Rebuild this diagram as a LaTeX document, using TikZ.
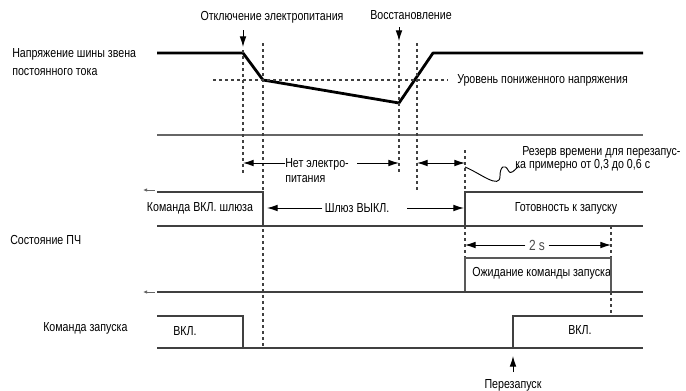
\documentclass[tikz,border=0pt]{standalone}
\usepackage{fontspec}
\setmainfont[FakeStretch=0.815]{Liberation Sans}
\usetikzlibrary{arrows.meta}
\begin{document}
\begin{tikzpicture}[x=0.75pt,y=-0.75pt,
  lbl/.style={inner sep=0pt, font=\fontsize{9.8}{12}\selectfont, text=black},
  sig/.style={line width=1.1pt, draw=black!75},
  wave/.style={line width=2.1pt, draw=black, line join=round},
  vdash/.style={line width=0.9pt, draw=black!75, dash pattern=on 2.5pt off 2pt},
  arr/.style={line width=0.7pt, -{Latex[length=8pt,width=5pt]}},
  dblarr/.style={line width=0.7pt, {Latex[length=8pt,width=5pt]}-{Latex[length=8pt,width=5pt]}},
  tick/.style={line width=0.6pt, draw=black!60, -{Latex[length=3pt,width=2.6pt]}},
]
\useasboundingbox[fill=white] (0,0) rectangle (686,390);

% ---- labels ----
\node[lbl] (toff) at (272,17) {Отключение электропитания};
\node[lbl] (trest) at (411,15) {Восстановление};
\node[lbl, anchor=west, align=left, font=\fontsize{9.8}{13.5}\selectfont] (tdc) at (12,62.5) {Напряжение шины звена\\постоянного тока};
\node[lbl, anchor=west] (tuv) at (457,80) {Уровень пониженного напряжения};
\node[lbl, anchor=west, align=left, font=\fontsize{9.8}{11.25}\selectfont] (tnp) at (285,170.5) {Нет электро-\\питания};
\node[lbl, anchor=west, align=left, font=\fontsize{9.8}{9.75}\selectfont] (trsv) at (515,159) {\hspace{5.25pt}Резерв времени для перезапус-\\ка примерно от 0,3 до 0,6 с};
\node[lbl] (tgon) at (200,208) {Команда ВКЛ. шлюза};
\node[lbl] (tgoff) at (357,208) {Шлюз ВЫКЛ.};
\node[lbl] (tready) at (566,208) {Готовность к запуску};
\node[lbl, anchor=west] (tfc) at (10,240) {Состояние ПЧ};
\node[lbl, inner sep=2.5pt, text=black!70, font=\fontsize{11}{12}\selectfont] (t2s) at (537,245) {2 s};
\node[lbl, anchor=west] (twait) at (472,273) {Ожидание команды запуска};
\node[lbl, anchor=west] (tstart) at (43,328) {Команда запуска};
\node[lbl] (ton1) at (185,331) {ВКЛ.};
\node[lbl] (ton2) at (580,330) {ВКЛ.};
\node[lbl] (trs) at (513,385) {Перезапуск};

% ---- coordinates ----
\coordinate (a1) at (243,30);  \coordinate (a1e) at (243,47);
\coordinate (a2) at (399,27);  \coordinate (a2e) at (399,41);
\coordinate (a3) at (513,372); \coordinate (a3e) at (513,356);

% ---- DC bus voltage ----
\draw[wave] (157,53) -- (243,53) -- (263,80) -- (399,103) -- (433,53) -- (643,53);
\draw[vdash] (213,80) -- (448,80);
\draw[line width=1.2pt, draw=black!60] (157,135) -- (643,135);

% ---- vertical dashed lines ----
\draw[vdash] (243,50) -- (243,173);
\draw[vdash] (263,43) -- (263,348);
\draw[vdash] (399,43) -- (399,173);
\draw[vdash] (417,43) -- (417,192);
\draw[vdash] (465,150) -- (465,192);
\draw[vdash] (465,226) -- (465,258);
\draw[vdash] (611,226) -- (611,313);

% ---- event arrows ----
\draw[arr] (a1) -- (a1e);
\draw[arr] (a2) -- (a2e);
\draw[arr] (a3) -- (a3e);

% ---- no power / reserve ----
\draw[arr] (285,163) -- (243,163);
\draw[arr] (357,163) -- (399,163);
\draw[dblarr] (417,163) -- (465,163);
\draw[line width=0.7pt] (465,167) .. controls (480,173) and (500,190) .. (500,176)
  .. controls (500,166) and (505,164) .. (508,170)
  .. controls (511,176) and (514,170) .. (519,166);

% ---- gate row ----
\draw[tick] (155,190) -- (143,190);
\draw[sig] (157,192) -- (263,192) -- (263,226);
\draw[sig] (157,226) -- (643,226);
\draw[sig] (465,226) -- (465,192) -- (643,192);
\draw[arr] (tgoff.west) ++(-2,0) -- (267,208);
\draw[arr] (407,208) -- (464,208);

% ---- 2 s / wait ----
\draw[arr] (t2s.west) -- (465,245);
\draw[arr] (t2s.east) -- (611,245);
\draw[line width=0.9pt, draw=black!65] (465,292) -- (465,258) -- (611,258) -- (611,292);

% ---- start command ----
\draw[tick] (155,292) -- (143,292);
\draw[sig] (157,292) -- (643,292);
\draw[sig] (157,316) -- (243,316) -- (243,348);
\draw[sig] (157,348) -- (643,348);
\draw[sig] (513,348) -- (513,316) -- (643,316);
\end{tikzpicture}
\end{document}
